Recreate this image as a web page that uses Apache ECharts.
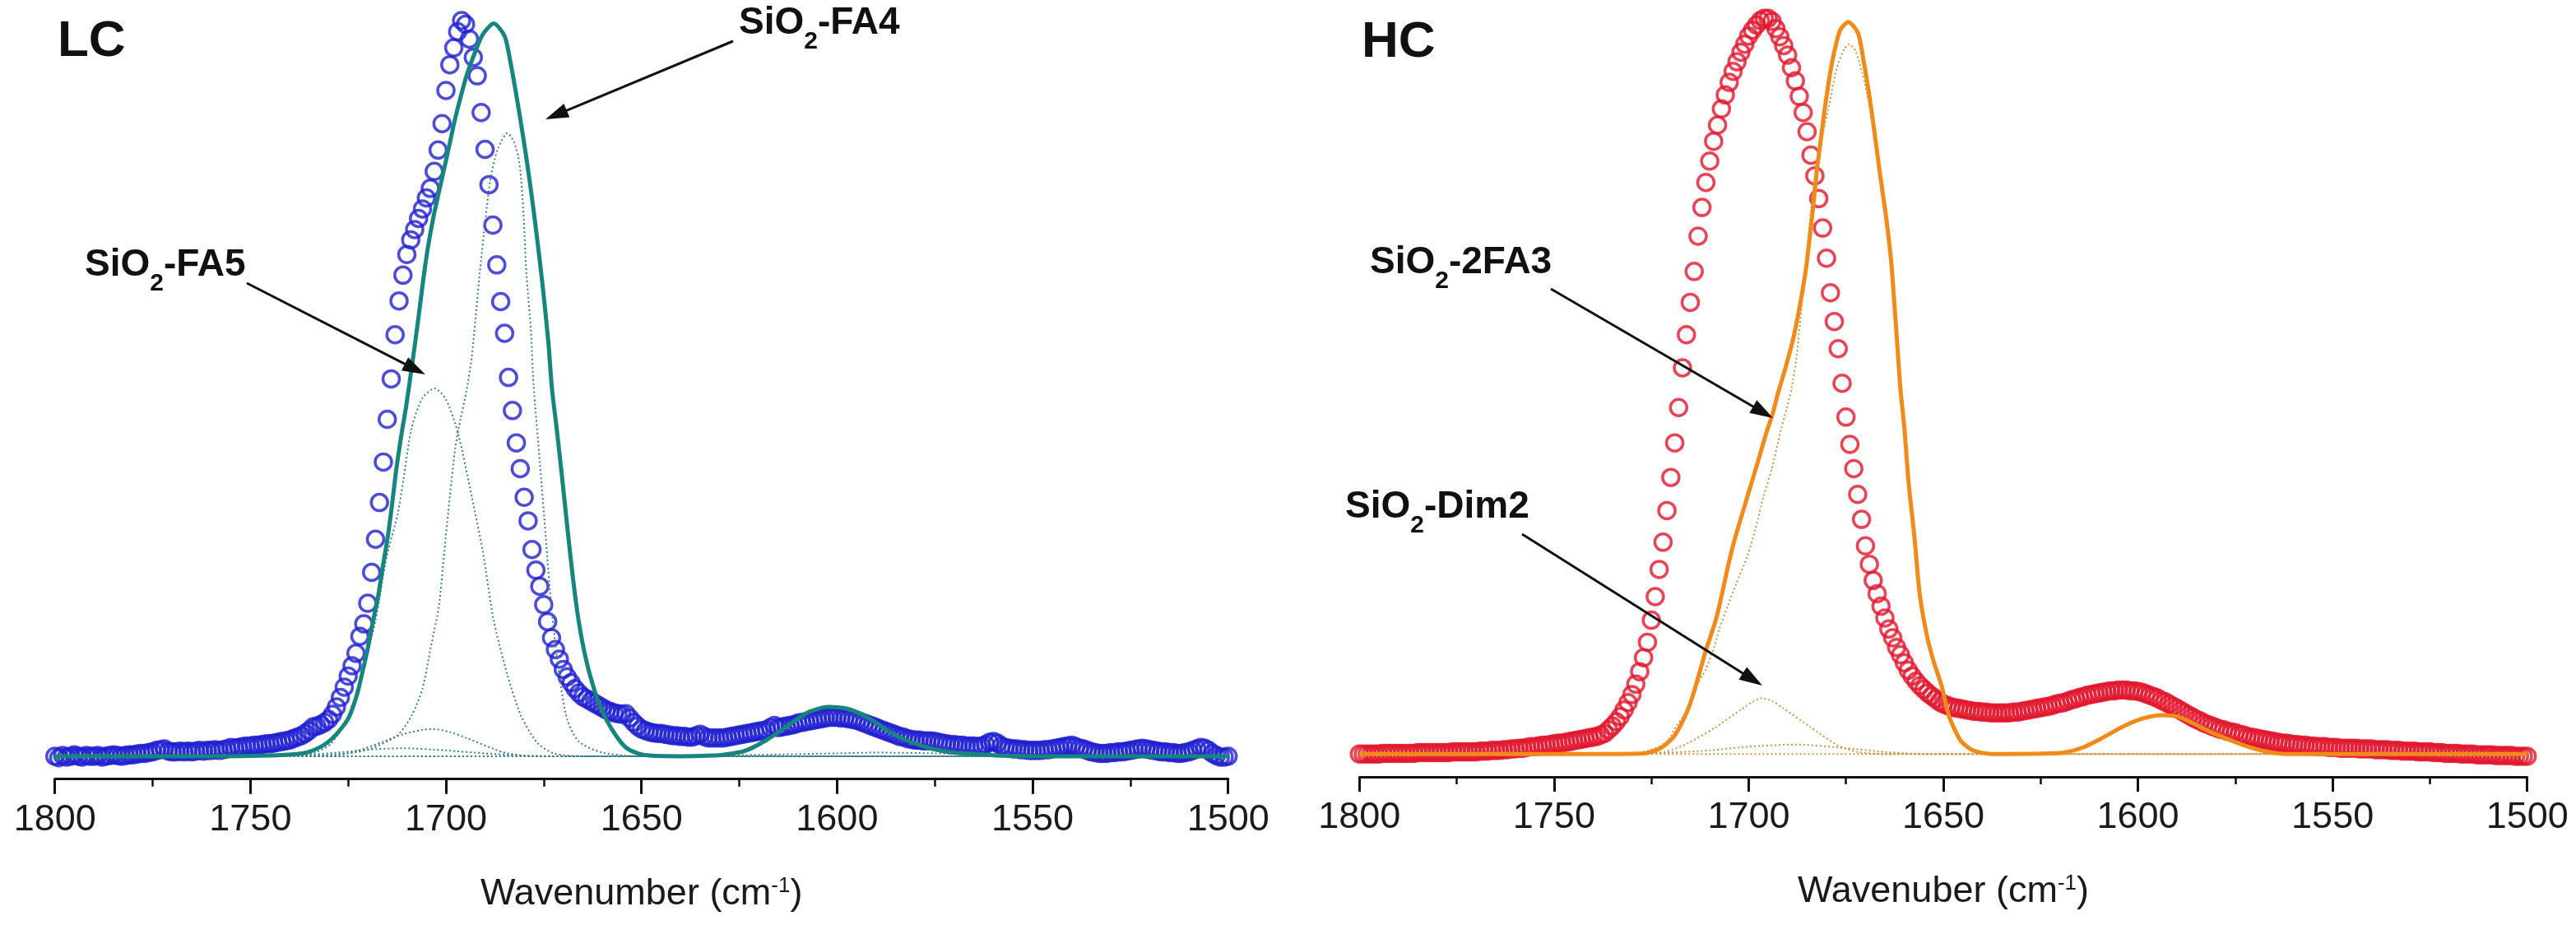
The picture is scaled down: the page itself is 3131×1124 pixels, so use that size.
<!DOCTYPE html>
<html><head><meta charset="utf-8">
<script src="https://cdn.jsdelivr.net/npm/echarts@6/dist/echarts.min.js"></script>
<style>html,body{margin:0;padding:0;background:#fff}#c{width:3131px;height:1124px}</style>
</head><body><div id="c"></div>
<script>
// ---- sampling of the measured spectra (one point per cm-1, from 1800 down to 1500) ----
const WN_START = 1800;
const WN_STEP = -1;

// ---- axis ticks ----
const xTicks = [1800, 1750, 1700, 1650, 1600, 1550, 1500];
const axisNameLC = 'Wavenumber (cm{sup|-1})';
const axisNameHC = 'Wavenuber (cm{sup|-1})';
const panelLabels = ['LC', 'HC'];

// ---- LC measured spectrum (blue circles), normalised absorbance ----
const lcMeasured = [
 0.000,-0.002,0.001,-0.001,0.000,0.002,0.000,-0.001,0.001,0.000,
 0.000,0.001,-0.001,0.000,0.001,0.002,0.001,0.000,0.001,0.002,
 0.002,0.003,0.004,0.004,0.005,0.006,0.008,0.009,0.010,0.007,
 0.006,0.006,0.007,0.006,0.007,0.006,0.007,0.008,0.007,0.008,
 0.008,0.009,0.008,0.009,0.010,0.012,0.011,0.012,0.013,0.014,
 0.014,0.015,0.015,0.016,0.017,0.017,0.018,0.019,0.020,0.021,
 0.022,0.024,0.026,0.028,0.031,0.035,0.040,0.041,0.043,0.046,
 0.050,0.057,0.067,0.080,0.094,0.109,0.123,0.140,0.163,0.180,
 0.208,0.250,0.295,0.345,0.400,0.458,0.513,0.573,0.619,0.654,
 0.682,0.702,0.716,0.731,0.744,0.759,0.772,0.795,0.824,0.860,
 0.905,0.940,0.963,0.985,1.000,0.995,0.975,0.950,0.925,0.875,
 0.825,0.777,0.722,0.668,0.618,0.575,0.515,0.470,0.426,0.391,
 0.352,0.320,0.281,0.253,0.231,0.206,0.183,0.161,0.145,0.132,
 0.118,0.108,0.100,0.092,0.086,0.081,0.078,0.075,0.072,0.069,
 0.066,0.063,0.061,0.059,0.058,0.057,0.058,0.052,0.046,0.041,
 0.037,0.035,0.033,0.032,0.031,0.031,0.030,0.029,0.028,0.028,
 0.027,0.027,0.026,0.026,0.028,0.030,0.027,0.025,0.025,0.025,
 0.025,0.025,0.026,0.027,0.028,0.029,0.030,0.031,0.032,0.033,
 0.034,0.035,0.036,0.039,0.042,0.039,0.040,0.041,0.042,0.043,
 0.045,0.046,0.047,0.048,0.049,0.050,0.051,0.052,0.053,0.053,
 0.053,0.052,0.052,0.051,0.050,0.049,0.047,0.045,0.043,0.041,
 0.039,0.037,0.035,0.033,0.031,0.029,0.027,0.026,0.024,0.023,
 0.022,0.022,0.021,0.021,0.021,0.020,0.019,0.018,0.017,0.016,
 0.016,0.015,0.015,0.014,0.014,0.014,0.013,0.014,0.016,0.019,
 0.020,0.018,0.014,0.012,0.011,0.010,0.010,0.009,0.009,0.008,
 0.008,0.008,0.008,0.009,0.009,0.010,0.011,0.012,0.013,0.014,
 0.015,0.013,0.011,0.010,0.008,0.006,0.005,0.004,0.004,0.004,
 0.005,0.005,0.006,0.006,0.007,0.008,0.009,0.010,0.011,0.010,
 0.009,0.008,0.007,0.006,0.006,0.005,0.005,0.004,0.004,0.005,
 0.006,0.008,0.010,0.012,0.011,0.008,0.004,0.001,-0.001,-0.001,
 0.000
];

// ---- HC measured spectrum (red circles) ----
const hcMeasured = [
 0.000,0.000,0.000,0.000,0.000,0.000,0.001,0.001,0.001,0.001,
 0.001,0.001,0.001,0.001,0.001,0.002,0.002,0.002,0.002,0.002,
 0.002,0.002,0.002,0.002,0.003,0.003,0.003,0.003,0.003,0.003,
 0.003,0.004,0.004,0.004,0.005,0.005,0.005,0.006,0.006,0.007,
 0.007,0.008,0.008,0.009,0.010,0.010,0.011,0.012,0.012,0.013,
 0.014,0.015,0.015,0.016,0.017,0.018,0.019,0.020,0.021,0.022,
 0.023,0.024,0.026,0.028,0.033,0.038,0.044,0.051,0.060,0.070,
 0.081,0.095,0.112,0.131,0.152,0.182,0.214,0.251,0.288,0.331,
 0.376,0.423,0.471,0.525,0.570,0.614,0.656,0.704,0.743,0.777,
 0.806,0.833,0.855,0.877,0.896,0.913,0.928,0.941,0.954,0.965,
 0.976,0.984,0.991,0.997,1.000,1.000,0.996,0.986,0.975,0.963,
 0.950,0.933,0.915,0.894,0.872,0.846,0.814,0.786,0.755,0.715,
 0.674,0.627,0.588,0.551,0.504,0.458,0.421,0.388,0.353,0.319,
 0.283,0.258,0.236,0.218,0.201,0.185,0.170,0.158,0.145,0.135,
 0.124,0.114,0.106,0.099,0.093,0.088,0.083,0.079,0.075,0.071,
 0.068,0.066,0.064,0.063,0.062,0.061,0.060,0.059,0.058,0.058,
 0.057,0.057,0.056,0.056,0.056,0.056,0.056,0.056,0.057,0.057,
 0.058,0.059,0.060,0.061,0.062,0.063,0.064,0.065,0.066,0.068,
 0.069,0.070,0.072,0.074,0.075,0.077,0.078,0.080,0.081,0.082,
 0.083,0.084,0.085,0.086,0.086,0.087,0.087,0.087,0.086,0.086,
 0.085,0.084,0.082,0.080,0.078,0.076,0.073,0.071,0.068,0.065,
 0.062,0.059,0.056,0.053,0.050,0.047,0.045,0.042,0.040,0.038,
 0.036,0.034,0.033,0.031,0.030,0.029,0.027,0.026,0.024,0.023,
 0.022,0.021,0.020,0.019,0.018,0.017,0.016,0.015,0.015,0.014,
 0.013,0.013,0.012,0.012,0.011,0.011,0.010,0.010,0.010,0.009,
 0.009,0.009,0.008,0.008,0.008,0.008,0.008,0.007,0.007,0.007,
 0.007,0.006,0.006,0.006,0.006,0.005,0.005,0.005,0.004,0.004,
 0.004,0.004,0.003,0.003,0.003,0.003,0.002,0.002,0.002,0.001,
 0.001,0.001,0.001,0.000,0.000,0.000,0.000,-0.001,-0.001,-0.001,
 -0.001,-0.001,-0.002,-0.002,-0.002,-0.002,-0.002,-0.003,-0.003,-0.003,
 -0.003
];

// ---- LC fit (solid teal) and components (dotted) : [wavenumber, value] ----
const lcFit = [[1800,0],[1760,0],[1745,0.001],[1738,0.003],[1735,0.006],[1732,0.013],[1730,0.02],[1728,0.03],
 [1725,0.051],[1722.9,0.081],[1721.5,0.111],[1720.1,0.144],[1718.7,0.182],[1717.3,0.219],[1716.2,0.256],
 [1714.8,0.301],[1713.7,0.346],[1712.7,0.39],[1711.3,0.44],[1710.2,0.475],[1708.8,0.527],[1707.8,0.565],
 [1706.7,0.61],[1705.7,0.652],[1704.6,0.692],[1703.2,0.733],[1701.8,0.767],[1700.4,0.80],[1699.0,0.834],
 [1697.6,0.868],[1696.2,0.897],[1694.8,0.924],[1692.7,0.955],[1690.6,0.981],[1687.8,0.996],[1685.0,0.979],
 [1683.6,0.946],[1682.2,0.905],[1680.8,0.86],[1679.4,0.812],[1678.0,0.759],[1676.6,0.70],[1675.2,0.636],
 [1673.8,0.562],[1672.9,0.50],[1671.7,0.446],[1670.3,0.379],[1668.9,0.308],[1667.5,0.241],[1666.1,0.185],
 [1664.7,0.144],[1663.2,0.111],[1661.1,0.075],[1659,0.05],[1656.5,0.028],[1654,0.012],[1651,0.004],
 [1648,0.001],[1640,0],[1632,0.001],[1629.1,0.002],[1623.7,0.007],[1618.4,0.021],[1613,0.040],[1607.7,0.059],
 [1602.3,0.067],[1597,0.064],[1591.6,0.051],[1586.2,0.032],[1580.9,0.019],[1575.5,0.010],[1570.2,0.005],
 [1564.8,0.003],[1559.4,0.001],[1550,0],[1500,0]];
const lcFA4 = [[1800,0],[1740,0],[1725,0.004],[1719.4,0.01],[1712.3,0.029],[1708.8,0.055],[1706.0,0.092],
 [1703.9,0.148],[1701.8,0.204],[1700.4,0.279],[1699.0,0.353],[1697.6,0.42],[1696.2,0.46],[1694.8,0.495],
 [1693.4,0.543],[1691.4,0.655],[1689.9,0.73],[1688.5,0.789],[1686.7,0.826],[1684.3,0.847],[1682.6,0.835],
 [1681.5,0.815],[1680.8,0.786],[1680.1,0.73],[1679.4,0.655],[1678.3,0.58],[1677.6,0.506],[1676,0.40],
 [1674.5,0.30],[1673,0.20],[1671,0.11],[1669,0.05],[1666,0.02],[1660,0.005],[1650,0],[1500,0]];
const lcFA5 = [[1800,0],[1745,0],[1737,0.002],[1733,0.006],[1729.2,0.018],[1725,0.055],[1721.5,0.111],
 [1718,0.185],[1715.2,0.27],[1712.3,0.33],[1710.9,0.375],[1708.8,0.446],[1706,0.487],[1702.9,0.50],
 [1700,0.485],[1696.9,0.439],[1693.4,0.353],[1690.6,0.279],[1687.8,0.185],[1684.3,0.111],[1680.8,0.055],
 [1676.6,0.018],[1672.4,0.004],[1665,0],[1500,0]];
const lcComp3 = [[1800,0],[1730,0],[1722.9,0.007],[1716,0.02],[1710.9,0.03],[1706,0.036],[1703.2,0.037],
 [1699,0.033],[1694.8,0.025],[1687.8,0.01],[1684.3,0.004],[1678,0],[1500,0]];
const lcComp4 = [[1800,0],[1745,0],[1730,0.004],[1720,0.009],[1711,0.011],[1700,0.008],[1690,0.004],
 [1680,0.001],[1670,0],[1500,0]];
const lcComp5 = [[1800,0],[1650,0],[1620,0.002],[1600,0.004],[1590,0.005],[1575,0.004],[1560,0.002],[1540,0],[1500,0]];
const lcComp6 = [[1800,0],[1640,0],[1629,0.001],[1623.7,0.006],[1618.4,0.021],[1613,0.040],[1607.7,0.059],
 [1602.3,0.067],[1597,0.064],[1591.6,0.051],[1586.2,0.032],[1580.9,0.019],[1575.5,0.010],[1570.2,0.004],
 [1564.8,0.002],[1555,0],[1500,0]];

// ---- HC fit (solid orange) and components (dotted) ----
const hcFit = [[1800,0],[1735,0],[1728,0.0005],[1726.5,0.001],[1723,0.007],[1719.5,0.022],[1717.4,0.040],
 [1715.2,0.066],[1713.8,0.089],[1712.4,0.115],[1711.0,0.141],[1709.6,0.163],[1708.1,0.189],[1706.8,0.219],
 [1705.4,0.253],[1703.9,0.286],[1701.8,0.324],[1699.7,0.361],[1697.6,0.398],[1695.5,0.436],[1693.7,0.465],
 [1692.6,0.488],[1690.6,0.524],[1688.5,0.566],[1686.7,0.614],[1685.3,0.659],[1684.2,0.708],[1683.2,0.756],
 [1682.5,0.793],[1681.4,0.838],[1680.7,0.868],[1680.0,0.894],[1679.0,0.928],[1677.9,0.957],[1676.5,0.984],
 [1674.4,0.995],[1671.9,0.98],[1670.5,0.943],[1669.1,0.898],[1667.7,0.846],[1666.3,0.79],[1664.8,0.734],
 [1663.4,0.67],[1662.6,0.614],[1661.7,0.547],[1661.0,0.495],[1660.0,0.443],[1658.9,0.368],[1657.4,0.294],
 [1656.1,0.219],[1654.3,0.163],[1652.5,0.126],[1650.4,0.092],[1648.5,0.051],[1645.5,0.018],[1642.4,0.005],
 [1637.4,0],[1625,0.0005],[1619,0.002],[1614.1,0.009],[1609.1,0.022],[1604,0.037],[1599,0.048],
 [1593.9,0.053],[1589.9,0.051],[1585.9,0.042],[1581.8,0.031],[1576.8,0.020],[1571.7,0.010],[1566.7,0.003],
 [1561.6,0],[1500,0]];
const hc2FA3 = [[1800,0],[1735,0],[1728,0.002],[1724.4,0.007],[1720.8,0.018],[1718.7,0.037],[1715.9,0.059],
 [1713.8,0.089],[1711.0,0.115],[1708.9,0.145],[1707.5,0.171],[1705.4,0.201],[1703.3,0.23],[1700.4,0.268],
 [1698.3,0.305],[1696.2,0.35],[1694.1,0.387],[1691.6,0.443],[1690.2,0.47],[1689.0,0.497],[1687.7,0.54],
 [1686.3,0.614],[1684.9,0.689],[1683.5,0.764],[1681.4,0.831],[1679.3,0.883],[1677.5,0.93],[1675.5,0.958],
 [1674.2,0.965],[1672.5,0.955],[1670.8,0.925],[1669.1,0.885],[1667.7,0.835],[1666.3,0.78],[1664.8,0.722],
 [1663.4,0.66],[1662.6,0.605],[1661.7,0.54],[1661,0.488],[1660,0.436],[1658.9,0.362],[1657.4,0.29],
 [1656.1,0.215],[1654.3,0.16],[1652.5,0.123],[1650.4,0.09],[1648.5,0.05],[1645.5,0.017],[1642.4,0.005],
 [1637,0],[1500,0]];
const hcDim2 = [[1800,0],[1730,0],[1721.5,0.003],[1715.9,0.014],[1708.9,0.035],[1701.8,0.061],[1699,0.071],
 [1696.6,0.076],[1694,0.072],[1691.3,0.063],[1684.2,0.037],[1677.2,0.012],[1672.2,0.003],[1665,0],[1500,0]];
const hcComp3 = [[1800,0],[1735,0],[1725,0.001],[1710,0.005],[1700,0.010],[1688,0.013],[1675,0.008],
 [1665,0.003],[1655,0],[1500,0]];
const hcComp4 = [[1800,0],[1640,0],[1625,0.0005],[1619,0.002],[1614.1,0.009],[1609.1,0.022],[1604,0.037],
 [1599,0.048],[1593.9,0.053],[1589.9,0.051],[1585.9,0.042],[1581.8,0.031],[1576.8,0.020],[1571.7,0.010],
 [1566.7,0.003],[1561.6,0],[1500,0]];

// ---- build [x,y] pairs for the measured spectra ----
function pairs(vals) { return vals.map((v, i) => [WN_START + i * WN_STEP, v]); }

const FONT = '"Liberation Sans", Arial, Helvetica, sans-serif';
const chart = echarts.init(document.getElementById('c'), null, {renderer: 'canvas'});

const LC_CIRCLE = '#1f1fd2', HC_CIRCLE = '#e2152c';
const LC_FIT = '#15857e', LC_DOT = '#3a7f87';
const HC_FIT = '#f28a1a', HC_DOT = '#c99541';

function xAxis(gridIndex, name) {
  return {
    type: 'value', gridIndex, min: xTicks[xTicks.length - 1], max: xTicks[0], interval: 50, inverse: true,
    axisLine: {show: true, onZero: false, lineStyle: {color: '#111', width: 3}},
    axisTick: {show: true, length: 18, lineStyle: {color: '#111', width: 3}},
    minorTick: {show: true, splitNumber: 2, length: 9, lineStyle: {color: '#111', width: 2.5}},
    splitLine: {show: false},
    axisLabel: {fontSize: 45, color: '#1a1a1a', margin: 27, fontFamily: FONT, showMinLabel: true, showMaxLabel: true,
      formatter: v => String(v)},
    name, nameLocation: 'middle', nameGap: 117,
    nameTextStyle: {fontSize: 45, color: '#1a1a1a', fontFamily: FONT,
      rich: {sup: {fontSize: 26, lineHeight: 26, verticalAlign: 'top', color: '#1a1a1a', fontFamily: FONT}}}
  };
}
function yAxis(gridIndex, max) {
  return {type: 'value', gridIndex, min: -0.031, max, show: false, splitLine: {show: false}};
}
function dotted(name, data, idx, color) {
  return {name, type: 'line', xAxisIndex: idx, yAxisIndex: idx, data, showSymbol: false, smooth: 0.25,
    z: 3, lineStyle: {color, width: 2, type: [2, 3]}, silent: true};
}
function solid(name, data, idx, color) {
  return {name, type: 'line', xAxisIndex: idx, yAxisIndex: idx, data, showSymbol: false, smooth: 0.25,
    z: 4, lineStyle: {color, width: 5}, silent: true};
}
function circles(name, data, idx, color) {
  return {name, type: 'scatter', xAxisIndex: idx, yAxisIndex: idx, data, symbol: 'circle', symbolSize: 20,
    z: 2, itemStyle: {color: 'rgba(0,0,0,0)', borderColor: color, borderWidth: 3.5}, silent: true};
}

// ---- annotations (text with subscripts, arrows) ----
const mctx = document.createElement('canvas').getContext('2d');
function textW(t, fs) { mctx.font = 'bold ' + fs + 'px "Liberation Sans"'; return mctx.measureText(t).width; }
function subText(x, baseline, segs) {
  const els = []; let cx = x;
  segs.forEach(([t, sub]) => {
    const fs = sub ? 30 : 46;
    const by = sub ? baseline + 18 : baseline;
    els.push({type: 'text', x: cx, y: by - 0.33 * fs, z: 10,
      style: {text: t, fontSize: fs, fontWeight: 'bold', fontFamily: FONT, fill: '#111', align: 'left', verticalAlign: 'middle'}});
    cx += textW(t, fs);
  });
  return els;
}
function bigText(x, baseline, t) {
  return {type: 'text', x, y: baseline - 0.33 * 62, z: 10,
    style: {text: t, fontSize: 62, fontWeight: 'bold', fontFamily: FONT, fill: '#111', align: 'left', verticalAlign: 'middle'}};
}
function arrow(x1, y1, x2, y2) {
  const L = 28, W = 9;
  const dx = x2 - x1, dy = y2 - y1, len = Math.hypot(dx, dy);
  const ux = dx / len, uy = dy / len, px = -uy, py = ux;
  const bx = x2 - ux * L, by = y2 - uy * L;
  return [
    {type: 'line', z: 10, shape: {x1, y1, x2: bx + ux * 3, y2: by + uy * 3}, style: {stroke: '#111', lineWidth: 3}},
    {type: 'polygon', z: 10, shape: {points: [[x2, y2], [bx + px * W, by + py * W], [bx - px * W, by - py * W]]}, style: {fill: '#111'}}
  ];
}

const graphics = [].concat(
  [bigText(70, 71, panelLabels[0]), bigText(1655, 72, panelLabels[1])],
  subText(898, 43, [['SiO', false], ['2', true], ['-FA4', false]]),
  subText(103, 337, [['SiO', false], ['2', true], ['-FA5', false]]),
  subText(1665, 334, [['SiO', false], ['2', true], ['-2FA3', false]]),
  subText(1635, 631, [['SiO', false], ['2', true], ['-Dim2', false]]),
  arrow(891, 50, 663, 145),
  arrow(300, 344, 517, 455),
  arrow(1885, 351, 2155, 508),
  arrow(1850, 649, 2142, 833)
);

chart.setOption({
  backgroundColor: '#ffffff',
  animation: false,
  textStyle: {fontFamily: FONT},
  grid: [
    {left: 66.7, top: 0, width: 1426, height: 946.7},
    {left: 1652.3, top: 0, width: 1419.4, height: 944}
  ],
  xAxis: [xAxis(0, axisNameLC), xAxis(1, axisNameHC)],
  yAxis: [yAxis(0, 1.028), yAxis(1, 1.025)],
  series: [
    circles('LC measured', pairs(lcMeasured), 0, LC_CIRCLE),
    dotted('SiO2-FA4', lcFA4, 0, LC_DOT),
    dotted('SiO2-FA5', lcFA5, 0, LC_DOT),
    dotted('LC comp 3', lcComp3, 0, LC_DOT),
    dotted('LC comp 4', lcComp4, 0, LC_DOT),
    dotted('LC comp 5', lcComp5, 0, LC_DOT),
    dotted('LC comp 6', lcComp6, 0, LC_DOT),
    solid('LC fit', lcFit, 0, LC_FIT),
    circles('HC measured', pairs(hcMeasured), 1, HC_CIRCLE),
    dotted('SiO2-2FA3', hc2FA3, 1, HC_DOT),
    dotted('SiO2-Dim2', hcDim2, 1, HC_DOT),
    dotted('HC comp 3', hcComp3, 1, HC_DOT),
    dotted('HC comp 4', hcComp4, 1, HC_DOT),
    solid('HC fit', hcFit, 1, HC_FIT)
  ],
  graphic: graphics
});
</script>
</body></html>
